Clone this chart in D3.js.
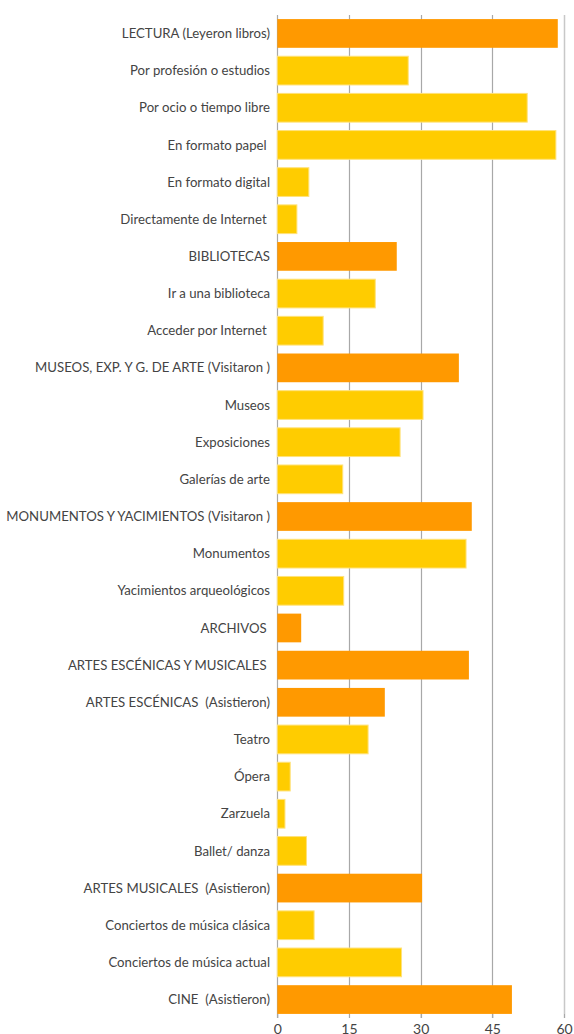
<!DOCTYPE html>
<html><head><meta charset="utf-8">
<script src="https://cdn.jsdelivr.net/npm/d3@7"></script>
<style>body{margin:0;background:#fff}svg{display:block}</style>
</head><body>
<script>
const categories = ["LECTURA (Leyeron libros)","Por profesión o estudios","Por ocio o tiempo libre","En formato papel ","En formato digital","Directamente de Internet ","BIBLIOTECAS","Ir a una biblioteca","Acceder por Internet ","MUSEOS, EXP. Y G. DE ARTE (Visitaron )","Museos","Exposiciones","Galerías de arte","MONUMENTOS Y YACIMIENTOS (Visitaron )","Monumentos","Yacimientos arqueológicos","ARCHIVOS ","ARTES ESCÉNICAS Y MUSICALES ","ARTES ESCÉNICAS  (Asistieron)","Teatro","Ópera","Zarzuela","Ballet/ danza","ARTES MUSICALES  (Asistieron)","Conciertos de música clásica","Conciertos de música actual","CINE  (Asistieron)"];
const values = [58.7,27.4,52.3,58.3,6.6,4.1,25.0,20.5,9.6,38.0,30.5,25.7,13.7,40.7,39.5,13.9,5.0,40.1,22.5,19.0,2.7,1.6,6.1,30.3,7.7,26.0,49.1];
const isHeader = [1,0,0,0,0,0,1,0,0,1,0,0,0,1,0,0,1,1,1,0,0,0,0,1,0,0,1];
const tickValues = [0,15,30,45,60];

const W=574,H=1034;
const svg=d3.select("body").append("svg").attr("width",W).attr("height",H);
const x=d3.scaleLinear().domain([0,60]).range([277.3,564]);
const y=d3.scaleBand().domain(categories).range([15,1018]).paddingInner(0.227).paddingOuter(0.11);

svg.append("g").selectAll("line").data(tickValues).join("line")
  .attr("x1",d=>Math.round(x(d))+0.5).attr("x2",d=>Math.round(x(d))+0.5)
  .attr("y1",15).attr("y2",1018)
  .attr("stroke",d=>d===60?"#c8c8c8":"#a8a8a8").attr("stroke-width",d=>d===60?1.5:1.2);

svg.append("g").selectAll("rect").data(categories).join("rect")
  .attr("x",x(0)).attr("y",d=>y(d))
  .attr("width",(d,i)=>x(values[i])-x(0)).attr("height",y.bandwidth())
  .attr("fill",(d,i)=>isHeader[i]?"#ff9900":"#ffcc00")
  .attr("stroke",(d,i)=>isHeader[i]?"none":"#ffe27a").attr("stroke-width",1);

svg.append("g").selectAll("text").data(categories).join("text")
  .attr("x",270).attr("y",d=>y(d)+y.bandwidth()/2)
  .attr("dy","0.35em").attr("text-anchor","end")
  .attr("xml:space","preserve").style("white-space","pre")
  .attr("font-family","Lato, 'Open Sans', sans-serif").attr("font-size",13.2)
  .attr("fill","#444").text(d=>d);

const ax=d3.axisBottom(x).tickValues(tickValues).tickSize(4).tickPadding(6);
const g=svg.append("g").attr("transform","translate(0,1014)").call(ax);
g.select(".domain").remove();
g.selectAll(".tick line").attr("stroke","#a8a8a8");
g.selectAll(".tick text").attr("font-family","Lato, 'Open Sans', sans-serif").attr("font-size",14).attr("fill","#444");
</script>
</body></html>
